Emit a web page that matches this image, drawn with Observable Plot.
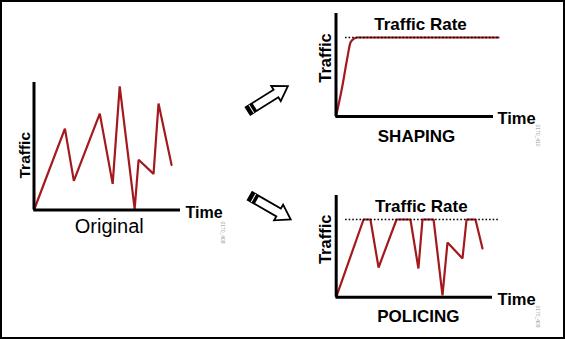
<!DOCTYPE html>
<html>
<head>
<meta charset="utf-8">
<script src="https://cdn.jsdelivr.net/npm/d3@7"></script>
<script src="https://cdn.jsdelivr.net/npm/@observablehq/plot@0.6"></script>
<style>
  html, body { margin: 0; padding: 0; background: #fff; }
  #wrap { position: relative; width: 565px; height: 339px; overflow: hidden; background: #fff; }
  #wrap > .pane { position: absolute; }
  #frame { position: absolute; left: 0; top: 0; width: 561px; height: 335px; border: 2px solid #000; }
  #overlay { position: absolute; left: 0; top: 0; }
</style>
</head>
<body>
<div id="wrap"><div id="frame"></div></div>
<script>
// ---------- data ----------
// Original traffic (time 0..100, traffic 0..100)
const origTime    = [0, 21.1, 27.2, 44.9, 53.7, 58.5, 68.7, 71.4, 81.6, 85.0, 93.9];
const origTraffic = [0, 63.8, 22.8, 75.6, 20.5, 96.9, 0.8, 39.4, 28.3, 83.5, 35.4];

// Shaping: smooth ramp up to the rate, then flat
const shapeTime    = [0, 3.9, 7.1, 9.2, 11.5, 13.7, 103.2];
const shapeTraffic = [0, 28.4, 56.0, 71.8, 75.6, 76.7, 76.7];
const shapeRate = 76.7;
const shapeRateSpan = [6, 103.2];

// Policing: bursts clipped at the rate
const policeTime    = [0, 17.5, 21.9, 27.1, 38.6, 47.5, 52.6, 55.2, 62.3, 68.0, 71.2, 80.8, 83.4, 89.1, 93.6];
const policeTraffic = [0, 76.4, 76.4, 29.2, 76.4, 76.4, 28.2, 76.4, 76.4, 1.7, 53.8, 38.1, 76.4, 76.4, 47.9];
const policeRate = 76.4;
const policeRateSpan = [6, 103.8];

const labels = {
  y: "Traffic", x: "Time", rate: "Traffic Rate",
  original: "Original", shaping: "SHAPING", policing: "POLICING",
  ids: ["0170_408", "0170_410", "0170_409"]
};

// ---------- drawing ----------
const RED = "#a3191d";
const FONT = "'Liberation Sans', Arial, Helvetica, sans-serif";
const wrap = document.getElementById("wrap");

function table(xs, ys) { return xs.map((t, i) => ({t, v: ys[i]})); }

function txt(s, o) {
  return Plot.text([s], Object.assign({text: d => d, fill: "#000", lineAnchor: "middle", textAnchor: "middle"}, o));
}

function panel(opts) {
  const marks = [];
  marks.push(Plot.line(table(opts.time, opts.traffic), {x: "t", y: "v", stroke: RED, strokeWidth: 2.2, strokeLinejoin: "miter", curve: opts.curve || "linear"}));
  if (opts.rate != null) {
    marks.push(Plot.ruleY([opts.rate], {x1: opts.rateSpan[0], x2: opts.rateSpan[1], stroke: "#000", strokeWidth: 1.6, strokeDasharray: "1.6,2"}));
    marks.push(txt(labels.rate, {frameAnchor: "top", fontSize: 17, fontWeight: "bold", dx: opts.rateDx, dy: opts.rateDy}));
  }
  marks.push(Plot.ruleX([0], {stroke: "#000", strokeWidth: 3}));
  marks.push(Plot.ruleY([0], {stroke: "#000", strokeWidth: 3}));
  marks.push(txt(labels.x, {frameAnchor: "bottom-right", textAnchor: "start", fontSize: opts.timeSize, fontWeight: "bold", dx: opts.timeDx, dy: opts.timeDy}));
  marks.push(txt(labels.y, {frameAnchor: "left", rotate: -90, fontSize: opts.ySize, fontWeight: "bold", dx: opts.yDx, dy: opts.yDy}));
  marks.push(txt(opts.title, {frameAnchor: "bottom", fontSize: opts.titleSize, fontWeight: opts.titleWeight, dx: opts.titleDx, dy: opts.titleDy}));
  marks.push(txt(opts.id, {frameAnchor: "bottom-right", rotate: 90, fontSize: 5, fill: "#999", dx: opts.idDx, dy: opts.idDy}));
  const svg = Plot.plot({
    width: opts.width, height: opts.height,
    marginLeft: opts.ml, marginRight: opts.mr, marginTop: opts.mt, marginBottom: opts.mb,
    x: {domain: [0, 100], axis: null},
    y: {domain: [0, 100], axis: null},
    style: {fontFamily: FONT, background: "transparent", overflow: "visible"},
    marks
  });
  svg.classList.add("pane");
  svg.style.left = opts.left + "px";
  svg.style.top = opts.top + "px";
  wrap.appendChild(svg);
}

panel({
  time: origTime, traffic: origTraffic, title: labels.original, id: labels.ids[0],
  left: 0, top: 60, width: 240, height: 200, ml: 33.5, mr: 60, mt: 22, mb: 50.5,
  timeSize: 16, timeDx: 5, timeDy: 3,
  ySize: 15.5, yDx: -8.5, yDy: 9,
  titleSize: 20, titleWeight: "normal", titleDx: 2, titleDy: 16.5,
  idDx: 42.5, idDy: 22.5
});

panel({
  time: shapeTime, traffic: shapeTraffic, curve: "monotone-x", rate: shapeRate, rateSpan: shapeRateSpan,
  title: labels.shaping, id: labels.ids[1],
  left: 300, top: 0, width: 260, height: 160, ml: 35.5, mr: 67, mt: 13, mb: 44,
  rateDx: 5.75, rateDy: 11,
  timeSize: 16.5, timeDx: 4, timeDy: 2.5,
  ySize: 16.5, yDx: -10, yDy: -7,
  titleSize: 17, titleWeight: "bold", titleDx: 1.75, titleDy: 20,
  idDx: 44, idDy: 19
});

panel({
  time: policeTime, traffic: policeTraffic, rate: policeRate, rateSpan: policeRateSpan,
  title: labels.policing, id: labels.ids[2],
  left: 300, top: 170, width: 260, height: 169, ml: 35.7, mr: 68, mt: 25, mb: 42.3,
  rateDx: 7, rateDy: 11,
  timeSize: 16.5, timeDx: 5, timeDy: 2.3,
  ySize: 16.5, yDx: -10.7, yDy: -7,
  titleSize: 17, titleWeight: "bold", titleDx: 4, titleDy: 19,
  idDx: 45, idDy: 19.3
});

// decorative hollow arrows (not data)
const NS = "http://www.w3.org/2000/svg";
const ov = document.createElementNS(NS, "svg");
ov.setAttribute("id", "overlay");
ov.setAttribute("width", 565);
ov.setAttribute("height", 339);
function arrow(x, y, angle) {
  const g = document.createElementNS(NS, "g");
  g.setAttribute("transform", `translate(${x},${y}) rotate(${angle})`);
  g.innerHTML =
    '<path d="M0,-4.5 L33,-4.5 L33,-9 L47,0 L33,9 L33,4.5 L0,4.5 Z" fill="#fff" stroke="#000" stroke-width="1.8" stroke-linejoin="miter"/>' +
    '<rect x="0" y="-4.5" width="8" height="9" fill="#000"/>' +
    '<line x1="4" y1="-4.5" x2="4" y2="4.5" stroke="#fff" stroke-width="1"/>';
  ov.appendChild(g);
}
arrow(248, 111, -32);
arrow(250, 196, 30);
wrap.appendChild(ov);
</script>
</body>
</html>
